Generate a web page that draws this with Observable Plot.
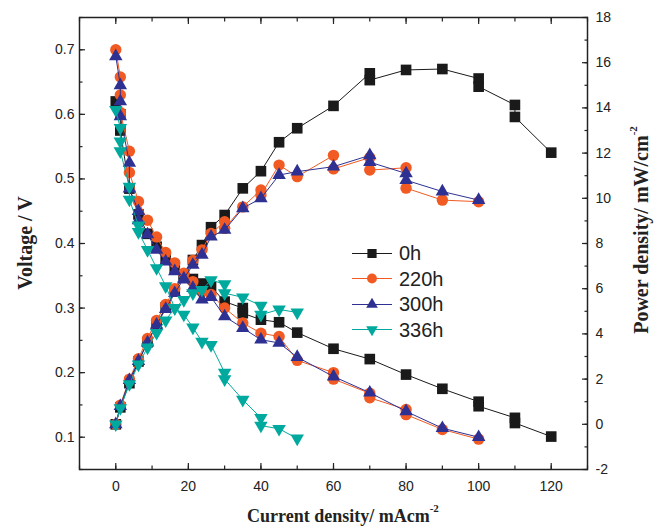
<!DOCTYPE html>
<html><head><meta charset="utf-8">
<script src="https://cdn.jsdelivr.net/npm/d3@7"></script>
<script src="https://cdn.jsdelivr.net/npm/@observablehq/plot@0.6"></script>
<style>
body{margin:0;background:#fff;}
#wrap{position:relative;width:658px;height:528px;font-family:"Liberation Sans",Arial,sans-serif;}
.ttl{position:absolute;font-family:"Liberation Serif","Times New Roman",serif;font-weight:bold;font-size:18px;color:#222;white-space:nowrap;line-height:1;}
.ttl sup{font-size:11px;position:relative;top:-3px;}
.rot{transform:translate(-50%,-50%) rotate(-90deg);font-size:20px;}
.lg{position:absolute;display:flex;align-items:center;font-size:20px;color:#222;transform:translateY(-50%);}
.lg svg{margin-right:5px;}
</style></head>
<body><div id="wrap"></div>
<script>
// ---- data ----
const hours = ["0h", "220h", "300h", "336h"];

// 0h
const cur0h  = [0, 1.25, 1.25, 3.75, 6.25, 8.75, 11.25, 13.75, 16.25, 18.75, 21.25, 23.75, 26.25, 30, 35, 35, 40, 45, 50, 60, 70, 80, 90, 100, 100, 110, 110, 120];
const volt0h = [0.62, 0.60, 0.575, 0.485, 0.445, 0.415, 0.395, 0.376, 0.362, 0.352, 0.345, 0.338, 0.333, 0.31, 0.30, 0.292, 0.282, 0.278, 0.262, 0.237, 0.221, 0.197, 0.175, 0.155, 0.148, 0.13, 0.122, 0.101];
const pcur0h = [0, 1.25, 3.75, 6.25, 8.75, 11.25, 13.75, 16.25, 18.75, 21.25, 23.75, 26.25, 30, 35, 40, 45, 50, 60, 70, 70, 80, 90, 100, 100, 110, 110, 120];
const pow0h  = [0, 0.75, 1.82, 2.78, 3.63, 4.44, 5.17, 5.88, 6.6, 7.27, 7.93, 8.72, 9.26, 10.44, 11.2, 12.48, 13.1, 14.09, 15.53, 15.23, 15.68, 15.72, 15.3, 14.94, 14.13, 13.6, 12.02];

// 220h
const cur220h  = [0, 1.25, 1.25, 1.25, 3.75, 3.75, 6.25, 8.75, 11.25, 13.75, 16.25, 18.75, 21.25, 23.75, 26.25, 30, 35, 40, 45, 50, 60, 60, 70, 70, 80, 80, 90, 100];
const volt220h = [0.70, 0.658, 0.63, 0.603, 0.543, 0.51, 0.465, 0.436, 0.41, 0.386, 0.37, 0.354, 0.341, 0.325, 0.321, 0.30, 0.277, 0.261, 0.256, 0.219, 0.2, 0.19, 0.168, 0.161, 0.143, 0.135, 0.112, 0.097];
const pcur220h = [0, 1.25, 3.75, 6.25, 8.75, 11.25, 13.75, 16.25, 18.75, 21.25, 23.75, 26.25, 30, 30, 35, 40, 40, 45, 50, 60, 60, 70, 70, 80, 80, 90, 100];
const pow220h  = [0, 0.85, 2.0, 2.9, 3.8, 4.6, 5.3, 6.0, 6.65, 7.25, 7.72, 8.45, 8.96, 8.67, 9.62, 10.37, 10.15, 11.47, 10.96, 11.9, 11.3, 11.8, 11.25, 11.35, 10.45, 9.92, 9.85];

// 300h
const cur300h  = [0, 1.25, 1.25, 1.25, 3.75, 3.75, 6.25, 6.25, 8.75, 11.25, 13.75, 16.25, 18.75, 21.25, 23.75, 26.25, 30, 35, 40, 45, 50, 60, 70, 80, 90, 100];
const volt300h = [0.69, 0.645, 0.62, 0.597, 0.525, 0.485, 0.45, 0.436, 0.414, 0.39, 0.372, 0.357, 0.344, 0.331, 0.313, 0.317, 0.287, 0.269, 0.251, 0.246, 0.224, 0.194, 0.169, 0.14, 0.114, 0.1];
const pcur300h = [0, 1.25, 3.75, 6.25, 8.75, 11.25, 13.75, 16.25, 18.75, 21.25, 23.75, 26.25, 30, 35, 40, 45, 50, 60, 70, 70, 80, 80, 90, 100];
const pow300h  = [0, 0.8, 1.95, 2.8, 3.62, 4.4, 5.1, 5.8, 6.45, 7.05, 7.5, 8.3, 8.6, 9.56, 10.0, 11.03, 11.18, 11.4, 11.9, 11.6, 11.1, 10.8, 10.3, 9.92];

// 336h
const cur336h  = [0, 1.25, 1.25, 1.25, 3.75, 3.75, 6.25, 6.25, 8.75, 11.25, 13.75, 16.25, 18.75, 21.25, 23.75, 26.25, 30, 30, 35, 40, 40, 45, 50];
const volt336h = [0.607, 0.579, 0.558, 0.543, 0.488, 0.468, 0.428, 0.418, 0.39, 0.362, 0.334, 0.3, 0.29, 0.27, 0.248, 0.243, 0.2, 0.19, 0.158, 0.13, 0.118, 0.113, 0.098];
const pcur336h = [0, 1.25, 3.75, 6.25, 8.75, 11.25, 13.75, 16.25, 18.75, 21.25, 23.75, 26.25, 30, 30, 35, 40, 40, 45, 50];
const pow336h  = [0, 0.72, 1.78, 2.65, 3.4, 4.05, 4.6, 5.15, 5.5, 5.8, 5.95, 6.38, 6.2, 5.8, 5.62, 5.25, 4.85, 5.08, 4.95];

// axis ticks
const xTicks = [0, 20, 40, 60, 80, 100, 120];
const vTicks = [0.1, 0.2, 0.3, 0.4, 0.5, 0.6, 0.7];
const pTicks = [-2, 0, 2, 4, 6, 8, 10, 12, 14, 16, 18];

// ---- styles ----
const colors = ["#1a1a1a", "#f15a22", "#2e3192", "#00a99d"];
const triDown = {draw(ctx, size) {
  const y = Math.sqrt(size / (3 * Math.sqrt(3))), x = Math.sqrt(3) * y;
  ctx.moveTo(0, 2 * y); ctx.lineTo(x, -y); ctx.lineTo(-x, -y); ctx.closePath();
}};
const symbols = [d3.symbolSquare, d3.symbolCircle, d3.symbolTriangle, triDown];
const radii = [6.0, 5.7, 5.0, 5.0];

// secondary axis mapping: power [-2,18] onto voltage [0.05,0.75]
const vDom = [0.05, 0.75], pDom = [-2, 18];
const pToV = p => vDom[0] + (p - pDom[0]) * (vDom[1] - vDom[0]) / (pDom[1] - pDom[0]);
const vToP = v => pDom[0] + (v - vDom[0]) * (pDom[1] - pDom[0]) / (vDom[1] - vDom[0]);

const series = [
  {cur: cur0h, volt: volt0h, pcur: pcur0h, pow: pow0h},
  {cur: cur220h, volt: volt220h, pcur: pcur220h, pow: pow220h},
  {cur: cur300h, volt: volt300h, pcur: pcur300h, pow: pow300h},
  {cur: cur336h, volt: volt336h, pcur: pcur336h, pow: pow336h}
];

const marks = [];
series.forEach((s, k) => {
  const vRows = s.cur.map((c, i) => ({I: c, V: s.volt[i]}));
  const pRows = s.pcur.map((c, i) => ({I: c, V: pToV(s.pow[i])}));
  for (const rows of [vRows, pRows]) {
    marks.push(Plot.line(rows, {x: "I", y: "V", stroke: colors[k], strokeWidth: 1}));
    marks.push(Plot.dot(rows, {x: "I", y: "V", symbol: symbols[k], r: radii[k], fill: colors[k], stroke: "none"}));
  }
});

const minor = (a, b, step) => d3.range(Math.round((b - a) / step) + 1).map(i => a + i * step);
const axisColor = "#222";

const chart = Plot.plot({
  width: 658, height: 528,
  marginLeft: 79, marginRight: 71, marginTop: 17, marginBottom: 59,
  style: {fontFamily: '"Liberation Sans", Arial, sans-serif', fontSize: "14px", color: axisColor, background: "#fff"},
  x: {domain: [-10, 130]},
  y: {domain: vDom},
  marks: [
    ...marks,
    Plot.frame({stroke: axisColor, strokeWidth: 1.5}),
    // bottom
    Plot.axisX(xTicks, {anchor: "bottom", tickSize: -6, fill: "none", label: null, strokeWidth: 1.2}),
    Plot.axisX(minor(-10, 130, 10), {anchor: "bottom", tickSize: -3.5, fill: "none", label: null, strokeWidth: 1.2}),
    Plot.axisX(xTicks, {anchor: "bottom", tickSize: 0, tickPadding: 12, label: null, fontSize: 14}),
    // top
    Plot.axisX(xTicks, {anchor: "top", tickSize: -6, fill: "none", label: null, strokeWidth: 1.2}),
    Plot.axisX(minor(-10, 130, 10), {anchor: "top", tickSize: -3.5, fill: "none", label: null, strokeWidth: 1.2}),
    // left
    Plot.axisY(vTicks, {anchor: "left", tickSize: -6, fill: "none", label: null, strokeWidth: 1.2}),
    Plot.axisY(minor(0.05, 0.75, 0.05), {anchor: "left", tickSize: -3.5, fill: "none", label: null, strokeWidth: 1.2}),
    Plot.axisY(vTicks, {anchor: "left", tickSize: 0, tickPadding: 5, label: null, tickFormat: d3.format(".1f"), fontSize: 14}),
    // right (power)
    Plot.axisY(pTicks.map(pToV), {anchor: "right", tickSize: -6, fill: "none", label: null, strokeWidth: 1.2}),
    Plot.axisY(minor(-2, 18, 1).map(pToV), {anchor: "right", tickSize: -3.5, fill: "none", label: null, strokeWidth: 1.2}),
    Plot.axisY(pTicks.map(pToV), {anchor: "right", tickSize: 0, tickPadding: 8, label: null, tickFormat: v => String(Math.round(vToP(v))), fontSize: 14})
  ]
});

const wrap = document.getElementById("wrap");
wrap.appendChild(chart);

// axis titles
function addTitle(html, css, rotate) {
  const d = document.createElement("div");
  d.className = "ttl" + (rotate ? " rot" : "");
  d.innerHTML = html;
  Object.assign(d.style, css);
  wrap.appendChild(d);
}
addTitle("Voltage / V", {left: "25px", top: "243px"}, true);
addTitle("Power density/ mW/cm<sup>-2</sup>", {left: "641px", top: "230px"}, true);
addTitle("Current density/ mAcm<sup>-2</sup>", {left: "247px", top: "506px"}, false);

// legend
const lgTops = [253, 278.5, 304, 329.5];
hours.forEach((h, k) => {
  const row = document.createElement("div");
  row.className = "lg";
  row.style.left = "352px";
  row.style.top = lgTops[k] + "px";
  const svg = d3.create("svg").attr("width", 42).attr("height", 20);
  svg.append("line").attr("x1", 0).attr("x2", 40).attr("y1", 10).attr("y2", 10).attr("stroke", colors[k]).attr("stroke-width", 1.2);
  svg.append("path").attr("transform", "translate(20,10)")
    .attr("d", d3.symbol(symbols[k], Math.PI * radii[k] * radii[k] * 0.75)())
    .attr("fill", colors[k]);
  row.appendChild(svg.node());
  const t = document.createElement("span");
  t.textContent = h;
  row.appendChild(t);
  wrap.appendChild(row);
});
</script>
</body></html>
